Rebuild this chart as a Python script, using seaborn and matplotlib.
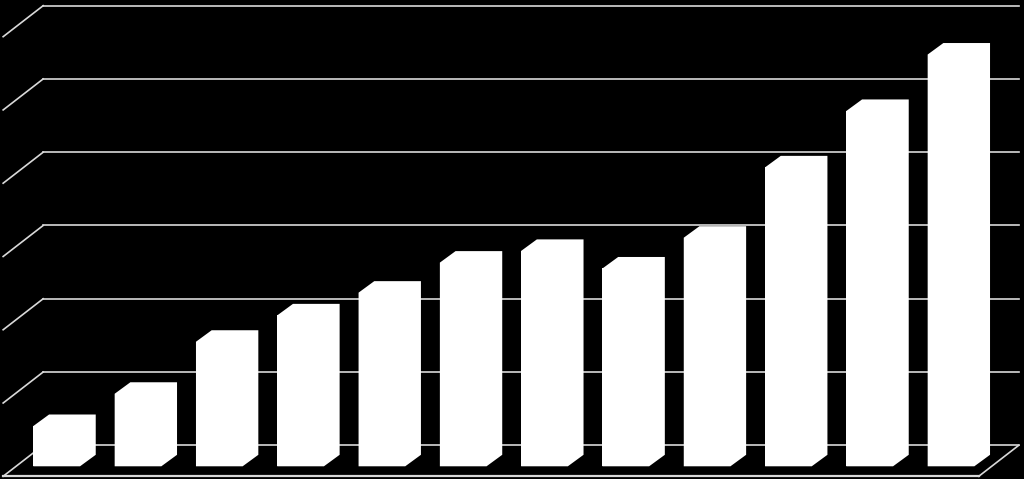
import numpy as np
import pandas as pd
import seaborn as sns
import matplotlib.pyplot as plt
from matplotlib.patches import Polygon

# bar data (gridline step = 10)
periods = [str(i) for i in range(1, 13)]
values = [5.5, 9.9, 17.0, 20.6, 23.7, 27.8, 29.4, 27.0, 31.2, 40.8, 48.5, 56.2]
grid_levels = [0, 10, 20, 30, 40, 50, 60]

df = pd.DataFrame({"period": periods, "value": values})

fig = plt.figure(figsize=(10.24, 4.79), dpi=100, facecolor="black")
ax = fig.add_axes([0, 0, 1, 1])
ax.set_facecolor("black")

# pixel scale of the front plane of the bars
px_x = 81.3          # pixels per category
px_y = 7.327         # pixels per value unit
xlim = (-56.7 / px_x, (1024 - 56.7) / px_x)
ylim = (-(479 - 466.3) / px_y, 466.3 / px_y)

def off(dx, dy):
    # pixel offset -> data offset
    return dx / px_x, dy / px_y

grid_col = "#d9d9d9"
lw = 1.2
x0, x1 = -0.5, len(periods) - 0.5
wx, wy = off(27.1, 21.0)      # back wall
fx, fy = off(-12.9, -10.0)    # front edge of the floor

# back wall gridlines + side wall diagonals
for g in grid_levels:
    ax.plot([x0 + wx, x1 + wx], [g + wy, g + wy], color=grid_col, lw=lw, zorder=1)
    ax.plot([x0 + fx, x0 + wx], [g + fy, g + wy], color=grid_col, lw=lw, zorder=1)

# floor outline
ax.plot([x0 + fx, x1 + fx], [fy, fy], color=grid_col, lw=1.6, zorder=1)
ax.plot([x1 + fx, x1 + wx], [fy, wy], color=grid_col, lw=lw, zorder=1)

# front faces of the bars
sns.barplot(data=df, x="period", y="value", color="white", saturation=1,
            width=0.574, edgecolor="none", linewidth=0, ax=ax, zorder=3)

# whole bar outline (front + top + side) so no seams show
dx, dy = off(15.7, 11.5)
for p in list(ax.patches):
    bx0 = p.get_x()
    bx1 = bx0 + p.get_width()
    top = p.get_height()
    pts = [(bx0, 0), (bx0, top), (bx0 + dx, top + dy), (bx1 + dx, top + dy),
           (bx1 + dx, dy), (bx1, 0)]
    ax.add_patch(Polygon(pts, closed=True, facecolor="white",
                         edgecolor="none", zorder=4))

ax.set_xlim(*xlim)
ax.set_ylim(*ylim)
ax.set_axis_off()

fig.savefig("out.png", dpi=100, facecolor="black")
